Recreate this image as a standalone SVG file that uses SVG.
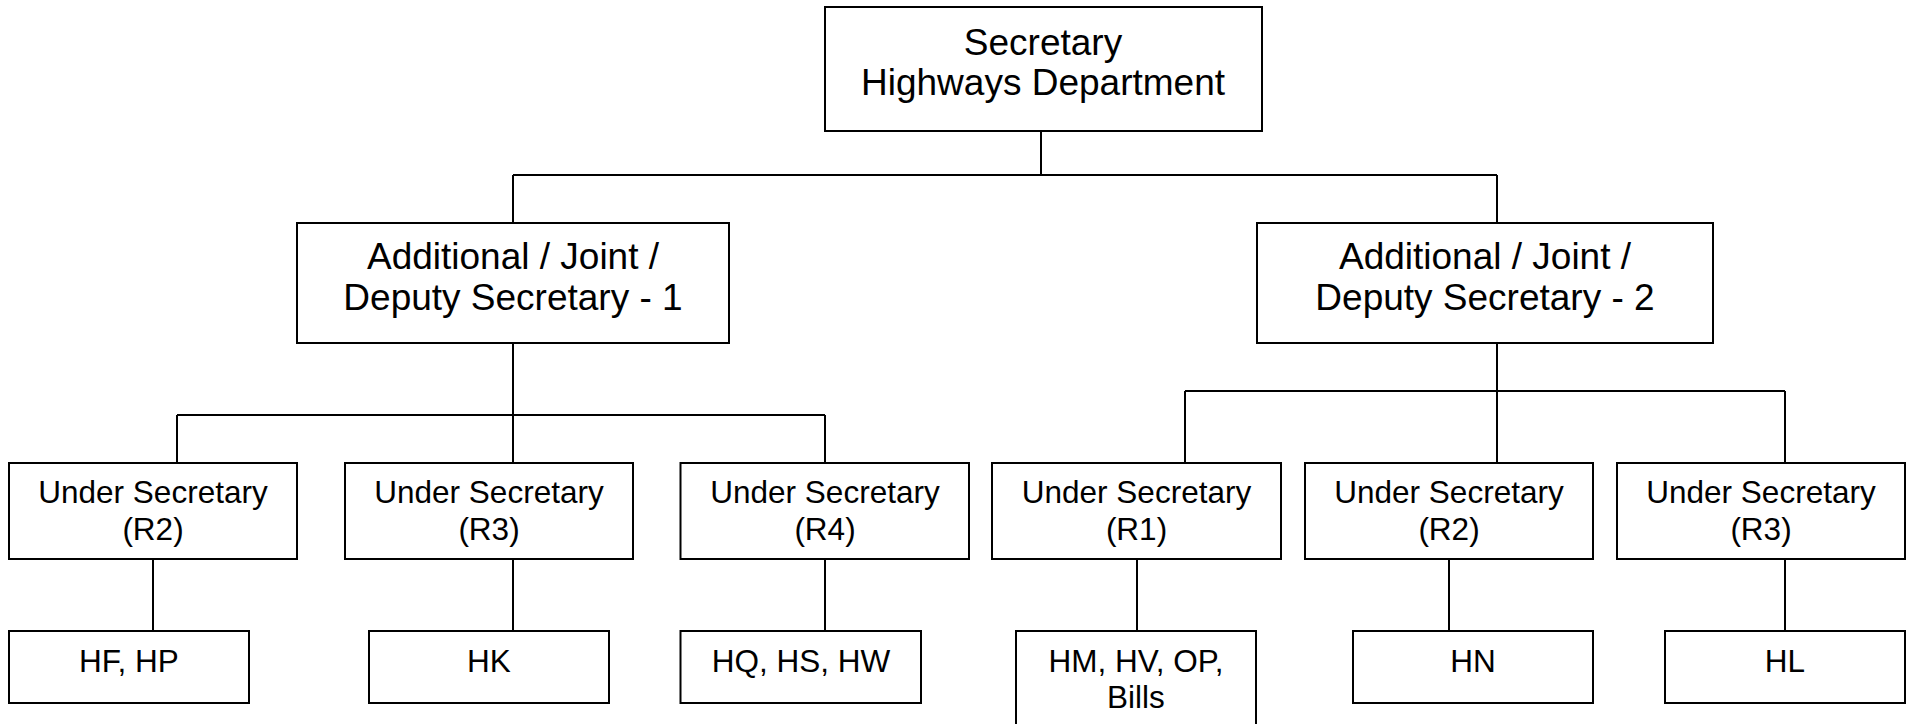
<svg xmlns="http://www.w3.org/2000/svg" width="1914" height="724" viewBox="0 0 1914 724">
<style>
.box{fill:#fff;stroke:#000;stroke-width:2}
.ln{stroke:#000;stroke-width:2;fill:none}
.big{font-family:"Liberation Sans",Arial,sans-serif;font-size:37px;fill:#000;text-anchor:middle}
.sm{font-family:"Liberation Sans",Arial,sans-serif;font-size:31.5px;fill:#000;text-anchor:middle}
</style>
<rect width="1914" height="724" fill="#fff"/>
<g id="connectors">
<path class="ln" d="M1041,126V175M513,175H1497M513,175V223M1497,175V223"/>
<path class="ln" d="M513,343V415M177,415H825M177,415V463M513,415V463M825,415V463"/>
<path class="ln" d="M1497,343V391M1185,391H1785M1185,391V463M1497,391V463M1785,391V463"/>
<path class="ln" d="M153,559V631M513,559V631M825,559V631M1137,559V631M1449,559V631M1785,559V631"/>
</g>
<g id="secretary"><rect class="box" x="825" y="7" width="437" height="124"/><text class="big" x="1043" y="54.5">Secretary</text><text class="big" x="1043" y="95">Highways Department</text></g>
<g id="ajd1"><rect class="box" x="297" y="223" width="432" height="120"/><text class="big" x="513" y="269">Additional / Joint /</text><text class="big" x="513" y="310">Deputy Secretary - 1</text></g>
<g id="ajd2"><rect class="box" x="1257" y="223" width="456" height="120"/><text class="big" x="1485" y="269">Additional / Joint /</text><text class="big" x="1485" y="310">Deputy Secretary - 2</text></g>
<g id="us-r2-left"><rect class="box" x="9" y="463" width="288" height="96"/><text class="sm" x="153" y="503">Under Secretary</text><text class="sm" x="153" y="540">(R2)</text></g>
<g id="us-r3-left"><rect class="box" x="345" y="463" width="288" height="96"/><text class="sm" x="489" y="503">Under Secretary</text><text class="sm" x="489" y="540">(R3)</text></g>
<g id="us-r4"><rect class="box" x="680.5" y="463" width="288.5" height="96"/><text class="sm" x="825" y="503">Under Secretary</text><text class="sm" x="825" y="540">(R4)</text></g>
<g id="us-r1"><rect class="box" x="992" y="463" width="289" height="96"/><text class="sm" x="1136.5" y="503">Under Secretary</text><text class="sm" x="1136.5" y="540">(R1)</text></g>
<g id="us-r2-right"><rect class="box" x="1305" y="463" width="288" height="96"/><text class="sm" x="1449" y="503">Under Secretary</text><text class="sm" x="1449" y="540">(R2)</text></g>
<g id="us-r3-right"><rect class="box" x="1617" y="463" width="288" height="96"/><text class="sm" x="1761" y="503">Under Secretary</text><text class="sm" x="1761" y="540">(R3)</text></g>
<g id="hf-hp"><rect class="box" x="9" y="631" width="240" height="72"/><text class="sm" x="129" y="672">HF, HP</text></g>
<g id="hk"><rect class="box" x="369" y="631" width="240" height="72"/><text class="sm" x="489" y="672">HK</text></g>
<g id="hq-hs-hw"><rect class="box" x="680.5" y="631" width="240.5" height="72"/><text class="sm" x="801" y="672">HQ, HS, HW</text></g>
<g id="hm-hv-op-bills"><rect class="box" x="1016" y="631" width="240" height="110"/><text class="sm" x="1136" y="672">HM, HV, OP,</text><text class="sm" x="1136" y="708">Bills</text></g>
<g id="hn"><rect class="box" x="1353" y="631" width="240" height="72"/><text class="sm" x="1473" y="672">HN</text></g>
<g id="hl"><rect class="box" x="1665" y="631" width="240" height="72"/><text class="sm" x="1785" y="672">HL</text></g>
</svg>
